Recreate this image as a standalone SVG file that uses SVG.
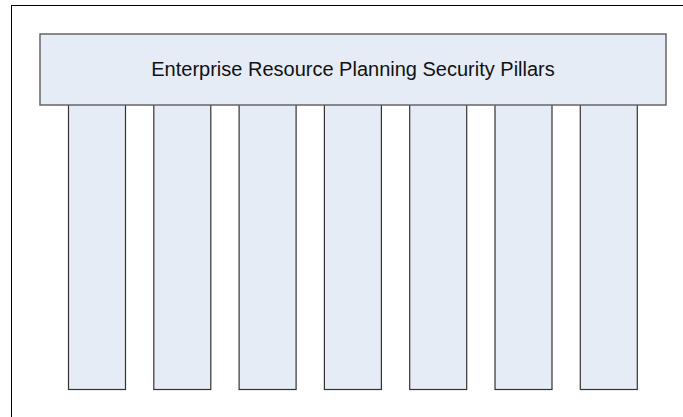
<svg xmlns="http://www.w3.org/2000/svg" width="683" height="417" viewBox="0 0 683 417">
  <style>
    .pillar { fill: #e6ecf6; stroke: #333333; stroke-width: 1.2; }
    .beam { fill: #e6ecf6; stroke: #666666; stroke-width: 1.5; }
    .frame { fill: none; stroke: #000000; stroke-width: 1; }
    .title { font-family: "Liberation Sans", Arial, sans-serif; font-size: 20px; fill: #111111; }
  </style>
  <rect width="683" height="417" fill="#ffffff"/>
  <!-- page frame -->
  <rect class="frame" x="11.5" y="5.5" width="690" height="430"/>
  <!-- pillars -->
  <g id="pillars">
    <g id="pillar-1"><rect class="pillar" x="68.5" y="104" width="57" height="285.5"/></g>
    <g id="pillar-2"><rect class="pillar" x="153.8" y="104" width="57" height="285.5"/></g>
    <g id="pillar-3"><rect class="pillar" x="239.1" y="104" width="57" height="285.5"/></g>
    <g id="pillar-4"><rect class="pillar" x="324.4" y="104" width="57" height="285.5"/></g>
    <g id="pillar-5"><rect class="pillar" x="409.7" y="104" width="57" height="285.5"/></g>
    <g id="pillar-6"><rect class="pillar" x="495" y="104" width="57" height="285.5"/></g>
    <g id="pillar-7"><rect class="pillar" x="580.3" y="104" width="57" height="285.5"/></g>
  </g>
  <!-- roof beam -->
  <g id="beam">
    <rect class="beam" x="40" y="34" width="626" height="71"/>
    <text class="title" x="353" y="76" text-anchor="middle">Enterprise Resource Planning Security Pillars</text>
  </g>
</svg>
